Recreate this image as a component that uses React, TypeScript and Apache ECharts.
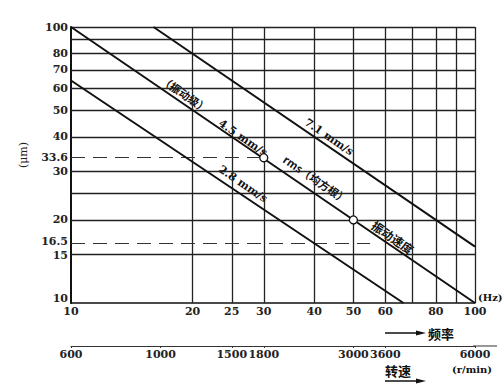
import React, { useEffect, useRef } from "react";
import * as echarts from "echarts";

// ---- data ----
const freqTicks = [10, 20, 25, 30, 40, 50, 60, 80, 100];
const dispTicks = [10, 15, 16.5, 20, 30, 33.6, 40, 50, 60, 70, 80, 100];
const rpmTicks = [600, 1000, 1500, 1800, 3000, 3600, 6000];
const freqGrid = [20, 25, 30, 40, 50, 60, 70, 80, 90, 100];
const dispGrid = [15, 20, 25, 30, 40, 50, 60, 70, 80, 90, 100];
const line28 = [[10, 64], [66.5, 10]];
const line45 = [[10, 100], [100, 10]];
const line71 = [[16, 100], [100, 16]];
const markedPoints = [[30, 33.6], [50, 20]];
const dashedLevels = [33.6, 16.5];
const dashedEnds = [30, 55];

const NUM_FONT = "DejaVu Serif";
const CJK_FONT = "Noto Sans CJK SC";
const fmt = (v: number) => String(Math.round(v * 10) / 10);

export default function App() {
  const ref = useRef<HTMLDivElement>(null);
  useEffect(() => {
    if (!ref.current) return;
    const chart = echarts.init(ref.current, null, { renderer: "svg" });
    const gridStyle = { color: "#222", width: 1.3, type: "solid" as const };
    const markData: any[] = [
      ...freqGrid.map((v) => ({ xAxis: v, lineStyle: gridStyle })),
      ...dispGrid.map((v) => ({ yAxis: v, lineStyle: gridStyle })),
      ...dashedLevels.map((v, i) => [
        { coord: [10, v], lineStyle: { color: "#333", width: 1, type: [14, 8] } },
        { coord: [dashedEnds[i], v] },
      ]),
    ];
    const numLabel = {
      color: "#222",
      fontFamily: NUM_FONT,
      fontSize: 11,
      fontWeight: "bold" as const,
    };
    const lineSeries = (name: string, data: number[][]) => ({
      name,
      type: "line",
      data,
      symbol: "none",
      silent: true,
      lineStyle: { color: "#111", width: 2 },
      z: 3,
    });
    const rot = -Math.atan(276 / 402);
    const diagText = (text: string, x: number, y: number, font: string, size: number) => ({
      type: "text",
      x,
      y,
      rotation: rot,
      silent: true,
      style: {
        text,
        fontFamily: font,
        fontSize: size,
        fontWeight: "bold",
        fill: "#111",
        align: "center",
        verticalAlign: "middle",
      },
    });
    const plainText = (text: string, x: number, y: number, font: string, size: number) => ({
      type: "text",
      x,
      y,
      silent: true,
      style: { text, fontFamily: font, fontSize: size, fontWeight: "bold", fill: "#111", align: "left", verticalAlign: "middle" },
    });
    chart.setOption({
      animation: false,
      grid: { left: 71, right: 29, top: 27, bottom: 85 },
      xAxis: [
        {
          type: "log",
          logBase: 10,
          min: 10,
          max: 100,
          position: "bottom",
          axisLine: { show: true, lineStyle: { color: "#111", width: 1.6 } },
          axisTick: { show: false },
          splitLine: { show: false },
          axisLabel: { ...numLabel, customValues: freqTicks, margin: 3, formatter: fmt },
        },
        {
          type: "log",
          logBase: 10,
          min: 600,
          max: 6000,
          position: "bottom",
          offset: 43,
          axisLine: { show: true, lineStyle: { color: "#333", width: 1 } },
          axisTick: { show: true, customValues: rpmTicks, length: 2, inside: false, lineStyle: { color: "#333" } },
          splitLine: { show: false },
          axisLabel: { ...numLabel, customValues: rpmTicks, margin: 3, formatter: fmt },
        },
      ],
      yAxis: {
        type: "log",
        logBase: 10,
        min: 10,
        max: 100,
        axisLine: { show: true, lineStyle: { color: "#111", width: 2 } },
        axisTick: { show: false },
        splitLine: { show: false },
        axisLabel: {
          ...numLabel,
          customValues: dispTicks,
          margin: 3,
          formatter: (v: number) => {
            const s = fmt(v);
            if (s === "10") return "{lo|10}";
            if (s === "16.5") return "{up|16.5}";
            if (s === "15") return "{dn|15}";
            return s;
          },
          rich: {
            lo: { ...numLabel, padding: [0, 0, 10, 0] },
            up: { ...numLabel, padding: [0, 0, 3, 0] },
            dn: { ...numLabel, padding: [3, 0, 0, 0] },
          },
        },
      },
      series: [
        {
          ...lineSeries("4.5 mm/s", line45),
          markLine: {
            silent: true,
            symbol: ["none", "none"],
            label: { show: false },
            emphasis: { disabled: true },
            data: markData,
            z: 1,
          },
        },
        lineSeries("2.8 mm/s", line28),
        lineSeries("7.1 mm/s", line71),
        {
          type: "scatter",
          data: markedPoints,
          symbol: "circle",
          symbolSize: 8,
          silent: true,
          z: 5,
          itemStyle: { color: "#fff", borderColor: "#111", borderWidth: 1.3, opacity: 1 },
        },
      ],
      graphic: [
        {
          type: "text",
          x: 23,
          y: 155,
          rotation: Math.PI / 2,
          silent: true,
          style: { text: "(μm)", fontFamily: NUM_FONT, fontSize: 11, fill: "#222", align: "center", verticalAlign: "middle" },
        },
        diagText("（振动级）", 185, 94, CJK_FONT, 11),
        diagText("4.5 mm/s", 243, 138, NUM_FONT, 11),
        diagText("2.8 mm/s", 243, 184, NUM_FONT, 11),
        diagText("7.1 mm/s", 329, 137, NUM_FONT, 11),
        diagText("rms（均方根）", 316, 179, CJK_FONT, 11),
        diagText("振动速度", 393, 237, CJK_FONT, 12),
        plainText("(Hz)", 478, 297, NUM_FONT, 10),
        { type: "line", silent: true, shape: { x1: 385, y1: 333, x2: 418, y2: 333 }, style: { stroke: "#111", lineWidth: 1.5 } },
        { type: "polygon", silent: true, shape: { points: [[416, 330.5], [426, 333], [416, 335.5]] }, style: { fill: "#111" } },
        plainText("频率", 428, 333, CJK_FONT, 13),
        { type: "line", silent: true, shape: { x1: 473, y1: 346, x2: 497, y2: 346 }, style: { stroke: "#333", lineWidth: 1 } },
        plainText("转速", 385, 370, CJK_FONT, 13),
        plainText("(r/min)", 452, 369, NUM_FONT, 10),
        { type: "line", silent: true, shape: { x1: 385, y1: 381, x2: 418, y2: 381 }, style: { stroke: "#111", lineWidth: 1.5 } },
        { type: "polygon", silent: true, shape: { points: [[416, 378.5], [426, 381], [416, 383.5]] }, style: { fill: "#111" } },
      ],
    });
    return () => chart.dispose();
  }, []);
  return (
    <div
      ref={ref}
      style={{ position: "fixed", left: 0, top: 0, width: 504, height: 388, background: "#fff" }}
    />
  );
}
